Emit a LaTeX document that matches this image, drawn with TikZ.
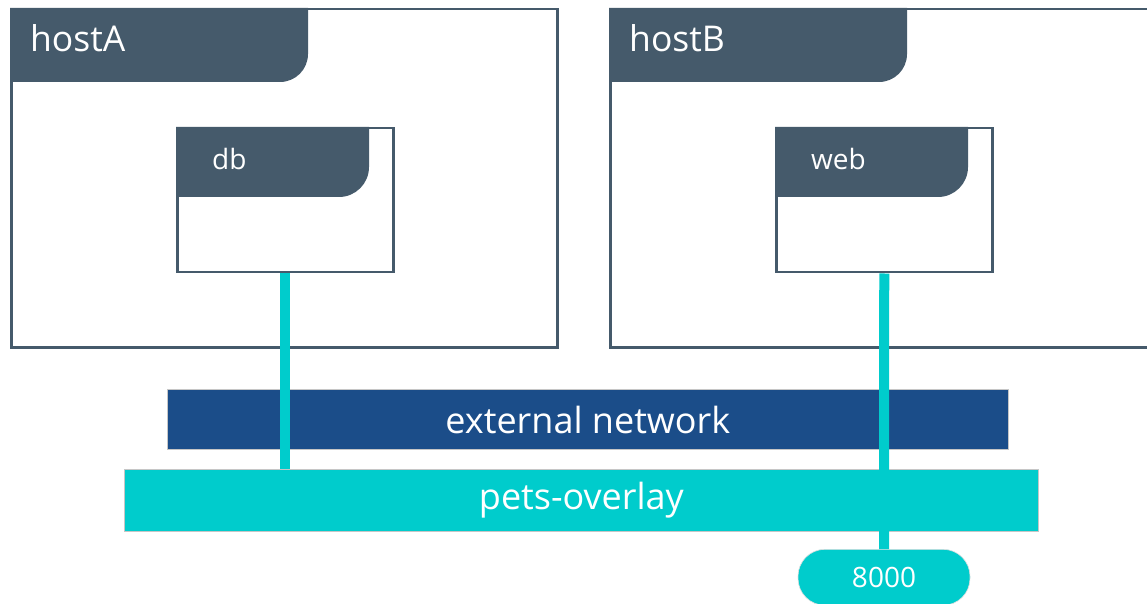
\documentclass[tikz,border=0pt]{standalone}
\usepackage{fontspec}
\setmainfont{Open Sans}
\usetikzlibrary{positioning}

\definecolor{slate}{HTML}{455A6B}
\definecolor{extblue}{HTML}{1B4D89}
\definecolor{overlay}{HTML}{00CCCC}

\tikzset{
  hostbox/.style={draw=slate, line width=2.5pt, fill=white, anchor=north west, inner sep=0pt},
  tablabel/.style={anchor=base west, text=white, inner sep=0pt},
  netbar/.style={draw=gray!45, line width=0.8pt, text=white, anchor=south west,
    inner sep=0pt, font=\fontsize{36}{42}\selectfont},
  link/.style={draw=overlay, line width=10pt},
}

% dark tab in the top left corner of a box: node, width, height, radius
\newcommand{\hosttab}[4]{%
  \fill[slate] (#1.north west) -- ++(#2,0) -- ++(0,-#3+#4) arc (0:-90:#4)
    -- ++(-#2+#4,0) -- cycle;}

\begin{document}
\begin{tikzpicture}[x=1pt,y=1pt]
    \useasboundingbox (0,0) rectangle (1147,603);
    \clip (0,0) rectangle (1147,603);

    % Hosts
    \node[hostbox, minimum width=546pt, minimum height=338pt] (hostA) at (10,595) {};
    \node[hostbox, minimum width=560pt, minimum height=338pt] (hostB) at (609,595) {};
    \hosttab{hostA}{298}{74}{28}
    \hosttab{hostB}{298}{74}{28}
    \node[tablabel, font=\fontsize{35.5}{42}\selectfont] (hostAlabel)
        at ([xshift=20pt, yshift=-44pt]hostA.north west) {hostA};
    \node[tablabel, font=\fontsize{35.5}{42}\selectfont] (hostBlabel)
        at ([xshift=20pt, yshift=-44pt]hostB.north west) {hostB};

    % Containers
    \node[hostbox, minimum width=216pt, minimum height=144pt] (db) at (176,476) {};
    \node[hostbox, minimum width=216pt, minimum height=144pt] (web) at (775,476) {};
    \hosttab{db}{193}{70}{30}
    \hosttab{web}{193}{70}{30}
    \node[tablabel, font=\fontsize{28}{33}\selectfont] (dblabel)
        at ([xshift=36pt, yshift=-43pt]db.north west) {db};
    \node[tablabel, font=\fontsize{28}{33}\selectfont] (weblabel)
        at ([xshift=36pt, yshift=-43pt]web.north west) {web};

    % Networks
    \node[netbar, fill=extblue, minimum width=841pt, minimum height=60pt] (ext)
        at (167,153) {external network};
    \node[netbar, fill=overlay, minimum width=914pt, minimum height=62pt] (pets)
        at (124,71) {pets-overlay};

    % Published port
    \node[draw=gray!25, line width=0.6pt, fill=overlay, rounded corners=27pt,
        minimum width=172pt, minimum height=56pt, anchor=north, text=white,
        font=\fontsize{28}{33}\selectfont] (port) at (884,54) {8000};

    % Links to the overlay network
    \draw[link] (db.south) -- (db.south |- pets.north);
    \draw[link] (web.south) -- (port.north);
\end{tikzpicture}
\end{document}
